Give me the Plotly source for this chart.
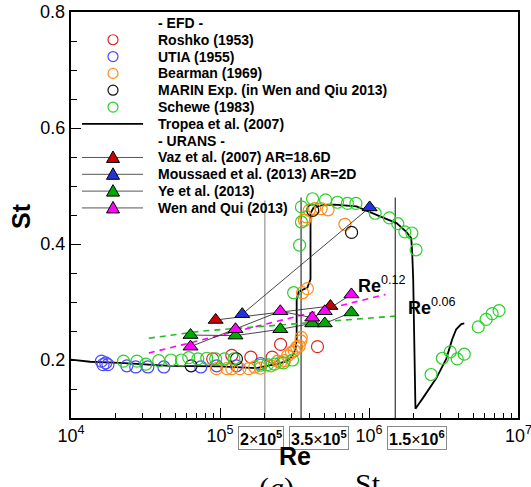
import plotly.graph_objects as go

# ---------------- data ----------------
roshko_re = [8.93e4, 1.20e5, 1.61e5, 2.24e5, 2.55e5, 4.51e5]
roshko_st = [0.202, 0.208, 0.205, 0.205, 0.227, 0.223]

utia_re = [1.60e4, 1.64e4, 1.71e4, 1.77e4, 2.37e4, 2.72e4, 3.28e4, 4.20e4, 7.43e4, 9.51e4, 1.29e5, 1.87e5]
utia_st = [0.198, 0.192, 0.195, 0.192, 0.190, 0.188, 0.188, 0.188, 0.188, 0.190, 0.190, 0.194]

bearman_re = [9.46e4, 1.11e5, 1.20e5, 1.36e5, 1.56e5, 1.71e5, 1.87e5, 2.19e5, 2.44e5, 2.55e5,
              2.71e5, 2.84e5, 3.02e5, 3.15e5, 3.27e5, 3.40e5, 3.49e5, 3.51e5, 3.58e5, 3.86e5,
              3.69e5, 3.78e5, 3.97e5, 4.31e5, 4.78e5, 5.31e5, 6.89e5]
bearman_st = [0.185, 0.185, 0.185, 0.185, 0.185, 0.188, 0.186, 0.190, 0.198, 0.196,
              0.199, 0.207, 0.213, 0.216, 0.222, 0.224, 0.233, 0.239, 0.316, 0.323,
              0.441, 0.447, 0.458, 0.461, 0.461, 0.459, 0.434]

marin_re = [6.40e4, 1.29e5, 4.19e5, 7.64e5]
marin_st = [0.190, 0.202, 0.458, 0.420]

schewe_re = [2.25e4, 2.77e4, 3.18e4, 3.88e4, 4.68e4, 5.51e4, 6.17e4, 7.10e4, 8.15e4, 9.35e4,
             1.07e5, 1.24e5, 1.87e5, 2.08e5, 2.32e5, 2.67e5, 3.07e5, 3.12e5, 3.42e5, 3.52e5,
             3.52e5, 4.18e5, 5.11e5, 6.14e5, 7.16e5, 8.17e5, 1.10e6, 1.37e6, 1.56e6, 1.74e6,
             1.94e6, 2.07e6, 2.61e6, 3.11e6, 3.51e6, 3.91e6, 4.36e6, 5.41e6, 6.11e6, 6.71e6, 7.46e6]
schewe_st = [0.198, 0.198, 0.193, 0.199, 0.200, 0.200, 0.204, 0.202, 0.203, 0.202,
             0.202, 0.202, 0.191, 0.192, 0.193, 0.195, 0.200, 0.316, 0.398, 0.438,
             0.464, 0.478, 0.476, 0.472, 0.470, 0.470, 0.453, 0.445, 0.435, 0.421,
             0.419, 0.390, 0.175, 0.203, 0.214, 0.202, 0.210, 0.257, 0.270, 0.280, 0.285]

tropea_re = [1.00e4, 1.34e4, 2.13e4, 4.60e4, 9.95e4, 1.76e5, 2.06e5, 2.40e5, 2.80e5, 3.07e5,
             3.21e5, 3.27e5, 3.27e5, 3.37e5, 3.86e5, 4.05e5, 4.05e5, 4.25e5, 4.88e5, 5.86e5,
             8.24e5, 1.01e6, 1.23e6, 1.53e6, 1.78e6, 1.92e6, 1.95e6, 1.98e6, 2.01e6, 2.05e6,
             2.28e6, 2.82e6, 3.30e6, 3.62e6, 3.85e6, 4.16e6, 4.36e6]
tropea_st = [0.2005, 0.197, 0.195, 0.190, 0.189, 0.186, 0.190, 0.193, 0.198, 0.207,
             0.219, 0.236, 0.304, 0.318, 0.325, 0.339, 0.453, 0.463, 0.467, 0.468,
             0.465, 0.456, 0.446, 0.436, 0.421, 0.410, 0.385, 0.339, 0.202, 0.116,
             0.133, 0.168, 0.202, 0.236, 0.253, 0.262, 0.263]

vaz_re = [9.35e4, 5.51e5]
vaz_st = [0.269, 0.293]
moussaed_re = [1.41e5, 1.01e6]
moussaed_st = [0.279, 0.463]
ye_re = [6.34e4, 1.27e5, 2.54e5, 4.16e5, 5.05e5, 7.62e5]
ye_st = [0.243, 0.242, 0.253, 0.263, 0.263, 0.282]
wen_re = [6.34e4, 1.27e5, 2.54e5, 4.16e5, 5.05e5, 7.62e5]
wen_st = [0.223, 0.253, 0.284, 0.273, 0.284, 0.313]

fit012_re = [3.33e4, 2.15e5, 1.29e6]
fit012_st = [0.212, 0.264, 0.313]
fit006_re = [3.33e4, 7.66e4, 1.50e6]
fit006_st = [0.2376, 0.250, 0.2757]

ref_re = [2e5, 3.5e5, 1.5e6]
ref_top = [0.475, 0.48, 0.48]
ref_labels = ["<b>2</b>×<b>10<sup>5</sup></b>", "<b>3.5</b>×<b>10<sup>5</sup></b>", "<b>1.5</b>×<b>10<sup>6</sup></b>"]

efd_names = ["Roshko (1953)", "UTIA (1955)", "Bearman (1969)", "MARIN Exp. (in Wen and Qiu 2013)", "Schewe (1983)"]
urans_names = ["Vaz et al. (2007) AR=18.6D", "Moussaed et al. (2013) AR=2D", "Ye et al. (2013)", "Wen and Qui (2013)"]

# axis ticks (edge labels "10^7" and "0.8" are drawn as annotations so margins stay fixed)
x_major = [1e4, 1e5, 1e6, 1e7]
x_major_text = ["10<sup>4</sup>", "10<sup>5</sup>", "10<sup>6</sup>", ""]
x_minor = [k * 10 ** d for d in (4, 5, 6) for k in range(2, 10)]
y_major = [0.2, 0.4, 0.6, 0.8]
y_major_text = ["0.2", "0.4", "0.6", ""]

# ---------------- styles ----------------
C_RED, C_BLUE, C_ORANGE, C_BLACK, C_GREEN = "#e02424", "#4a4aff", "#ff8c1a", "#111111", "#2ad02a"
T_RED, T_BLUE, T_GREEN, T_MAG = "#cc0000", "#2233dd", "#00a800", "#ff00ff"
FONT = "Liberation Sans"
W, H = 531, 487
PX_L, PX_R, PX_T, PX_B = 71, 518, 10, 418


def px(x):
    return (x - PX_L) / (PX_R - PX_L)


def py(y):
    return (PX_B - y) / (PX_B - PX_T)


fig = go.Figure()

# reference vertical lines
for r, top, col in zip(ref_re, ref_top, ["#8a8a8a", "#222222", "#222222"]):
    fig.add_trace(go.Scatter(x=[r, r], y=[0.1, top], mode="lines",
                             line=dict(color=col, width=1.1), hoverinfo="skip"))

# Tropea line
fig.add_trace(go.Scatter(x=tropea_re, y=tropea_st, mode="lines",
                         line=dict(color="black", width=1.8)))

# fits
fig.add_trace(go.Scatter(x=fit012_re, y=fit012_st, mode="lines",
                         line=dict(color=T_MAG, width=1.6, dash="6px,5px")))
fig.add_trace(go.Scatter(x=fit006_re, y=fit006_st, mode="lines",
                         line=dict(color="#22bb22", width=1.6, dash="6px,5px")))

# EFD circles
for xs, ys, c in [(roshko_re, roshko_st, C_RED), (utia_re, utia_st, C_BLUE),
                  (bearman_re, bearman_st, C_ORANGE), (marin_re, marin_st, C_BLACK),
                  (schewe_re, schewe_st, C_GREEN)]:
    fig.add_trace(go.Scatter(x=xs, y=ys, mode="markers",
                             marker=dict(symbol="circle-open", size=12, color=c,
                                         line=dict(width=1.2, color=c))))

# URANS triangles
for xs, ys, c in [(vaz_re, vaz_st, T_RED), (moussaed_re, moussaed_st, T_BLUE),
                  (ye_re, ye_st, T_GREEN), (wen_re, wen_st, T_MAG)]:
    fig.add_trace(go.Scatter(x=xs, y=ys, mode="lines+markers",
                             line=dict(color="#333333", width=0.9),
                             marker=dict(symbol="triangle-up", size=13, color=c,
                                         line=dict(width=1, color="black"))))

# ---------------- legend (drawn with shapes + annotations) ----------------
LEG_Y0, LEG_DY = 21, 16.9
KEY_X, KEY_L, KEY_R, TXT_X = 113, 82, 143, 156
rows = ["- EFD -"] + efd_names + ["Tropea et al. (2007)", "- URANS -"] + urans_names
ann, shp = [], []
for i, t in enumerate(rows):
    ann.append(dict(x=px(TXT_X), y=py(LEG_Y0 + i * LEG_DY), xref="paper", yref="paper",
                    text="<b>%s</b>" % t, showarrow=False, xanchor="left", yanchor="middle",
                    font=dict(family=FONT, size=14, color="black")))
for i, c in enumerate([C_RED, C_BLUE, C_ORANGE, C_BLACK, C_GREEN]):
    yy = py(LEG_Y0 + (i + 1) * LEG_DY)
    shp.append(dict(type="circle", xref="paper", yref="paper", xsizemode="pixel", ysizemode="pixel",
                    xanchor=px(KEY_X), yanchor=yy, x0=-5, x1=5, y0=-5, y1=5,
                    line=dict(color=c, width=1.2), fillcolor="rgba(0,0,0,0)"))
yy = py(LEG_Y0 + 6 * LEG_DY)
shp.append(dict(type="line", xref="paper", yref="paper", x0=px(KEY_L), x1=px(KEY_R), y0=yy, y1=yy,
                line=dict(color="black", width=1.8)))
for i, c in enumerate([T_RED, T_BLUE, T_GREEN, T_MAG]):
    yy = py(LEG_Y0 + (8 + i) * LEG_DY)
    shp.append(dict(type="line", xref="paper", yref="paper", x0=px(KEY_L), x1=px(KEY_R), y0=yy, y1=yy,
                    line=dict(color="#555555", width=1)))
    shp.append(dict(type="path", xref="paper", yref="paper", xsizemode="pixel", ysizemode="pixel",
                    xanchor=px(KEY_X), yanchor=yy, path="M-6.5,-5 L6.5,-5 L0,6.5 Z",
                    line=dict(color="black", width=1), fillcolor=c))

# edge tick labels
ann.append(dict(x=px(67), y=py(10), xref="paper", yref="paper", text="0.8", showarrow=False,
                xanchor="right", yanchor="middle", font=dict(family=FONT, size=18, color="black")))
ann.append(dict(x=px(518), y=py(435), xref="paper", yref="paper", text="10<sup>7</sup>", showarrow=False,
                xanchor="center", yanchor="middle", font=dict(family=FONT, size=18, color="black")))

# reference boxes below axis
for lab, cx in zip(ref_labels, [260.5, 319, 417]):
    ann.append(dict(x=px(cx), y=py(438.5), xref="paper", yref="paper", text=lab, showarrow=False,
                    xanchor="center", yanchor="middle", bordercolor="#8a8a8a", borderwidth=1,
                    borderpad=1, bgcolor="white", font=dict(family=FONT, size=16, color="black")))

# exponent labels
ann.append(dict(x=px(356), y=py(284), xref="paper", yref="paper", text="<b>Re</b><sup>0.12</sup>",
                showarrow=False, xanchor="left", yanchor="middle",
                font=dict(family=FONT, size=18, color="black")))
ann.append(dict(x=px(406), y=py(306), xref="paper", yref="paper", text="<b>Re</b><sup>0.06</sup>",
                showarrow=False, xanchor="left", yanchor="middle",
                font=dict(family=FONT, size=18, color="black")))

# axis titles
ann.append(dict(x=px(295), y=py(456), xref="paper", yref="paper", text="<b>Re</b>", showarrow=False,
                xanchor="center", yanchor="middle", font=dict(family=FONT, size=25, color="black")))
ann.append(dict(x=px(21), y=py(215), xref="paper", yref="paper", text="<b>St</b>", showarrow=False,
                textangle=-90, xanchor="center", yanchor="middle",
                font=dict(family=FONT, size=25, color="black")))

# caption (cut off at bottom)
ann.append(dict(x=px(276), y=py(469), xref="paper", yref="paper", text="(<i>a</i>)", showarrow=False,
                xanchor="center", yanchor="top", font=dict(family="Liberation Serif", size=30, color="black")))
ann.append(dict(x=px(368), y=py(465), xref="paper", yref="paper", text="St", showarrow=False,
                xanchor="center", yanchor="top", font=dict(family="Liberation Serif", size=30, color="black")))

fig.update_layout(
    width=W, height=H, showlegend=False,
    margin=dict(l=PX_L, r=W - PX_R, t=PX_T, b=H - PX_B),
    plot_bgcolor="white", paper_bgcolor="white",
    font=dict(family=FONT, color="black"),
    annotations=ann, shapes=shp,
    xaxis=dict(type="log", range=[4, 7], tickmode="array", tickvals=x_major, ticktext=x_major_text,
               ticks="inside", ticklen=10, tickwidth=1, tickcolor="black",
               minor=dict(ticks="inside", ticklen=5, tickwidth=1, tickcolor="black",
                          tickmode="array", tickvals=x_minor, showgrid=False),
               showline=True, linewidth=2, linecolor="black", mirror=True,
               showgrid=False, zeroline=False,
               tickfont=dict(family=FONT, size=18, color="black")),
    yaxis=dict(range=[0.1, 0.8], tickmode="array", tickvals=y_major, ticktext=y_major_text,
               ticks="inside", ticklen=10, tickwidth=1, tickcolor="black",
               minor=dict(ticks="inside", ticklen=6, tickwidth=1, tickcolor="black", dtick=0.05, showgrid=False),
               showline=True, linewidth=2, linecolor="black", mirror=True,
               showgrid=False, zeroline=False,
               tickfont=dict(family=FONT, size=18, color="black")),
)

fig.write_html("out.html")
